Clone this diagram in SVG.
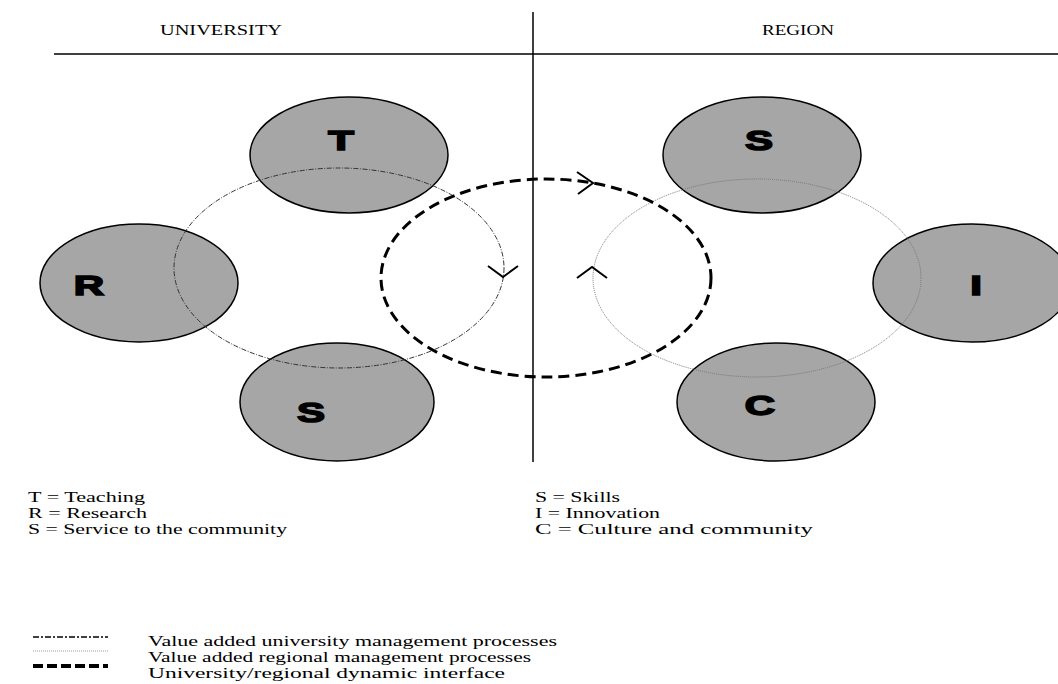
<svg xmlns="http://www.w3.org/2000/svg" width="1058" height="684" viewBox="0 0 1058 684">
<style>
  .bg { fill: #ffffff; }
  .node { fill: #a6a6a6; stroke: #000; stroke-width: 1.5; }
  .letter { font-family: "Liberation Sans", Arial, sans-serif; font-weight: bold; font-size: 28px; fill: #000; stroke: #000; stroke-width: 1.6; text-anchor: middle; }
  .txt { font-family: "Liberation Serif", "Times New Roman", serif; font-size: 14.5px; fill: #000; }
  .hdr { font-family: "Liberation Serif", "Times New Roman", serif; font-size: 15px; fill: #000; }
  .rule { stroke: #000; stroke-width: 1.5; fill: none; }
  .uni { fill: none; stroke: #333; stroke-width: 1; stroke-dasharray: 5 1.5 1 1.5; }
  .reg { fill: none; stroke: #777; stroke-width: 1; stroke-dasharray: 1 1; }
  .dyn { fill: none; stroke: #000; stroke-width: 3; stroke-dasharray: 11 6; }
  .chev { fill: none; stroke: #000; stroke-width: 2; }
</style>
<rect class="bg" x="0" y="0" width="1058" height="684"/>

<g id="frame">
  <line class="rule" x1="54" y1="54" x2="1058" y2="54"/>
  <line class="rule" x1="533" y1="12" x2="533" y2="462"/>
  <text class="hdr" x="160" y="35" textLength="122" lengthAdjust="spacingAndGlyphs">UNIVERSITY</text>
  <text class="hdr" x="762" y="35" textLength="72" lengthAdjust="spacingAndGlyphs">REGION</text>
</g>

<g id="node-T">
  <ellipse class="node" cx="349" cy="155" rx="99" ry="58"/>
  <text class="letter" transform="translate(341,150) scale(1.5,1)">T</text>
</g>
<g id="node-R">
  <ellipse class="node" cx="139" cy="283" rx="99" ry="59"/>
  <text class="letter" transform="translate(89,295) scale(1.5,1)">R</text>
</g>
<g id="node-S-uni">
  <ellipse class="node" cx="337" cy="402" rx="97" ry="59"/>
  <text class="letter" transform="translate(311,422) scale(1.5,1)">S</text>
</g>
<g id="node-S-reg">
  <ellipse class="node" cx="762" cy="155" rx="99" ry="58"/>
  <text class="letter" transform="translate(759,150) scale(1.5,1)">S</text>
</g>
<g id="node-I">
  <ellipse class="node" cx="972" cy="283" rx="99" ry="59"/>
  <text class="letter" transform="translate(976,295) scale(1.5,1)">I</text>
</g>
<g id="node-C">
  <ellipse class="node" cx="776" cy="402" rx="99" ry="59"/>
  <text class="letter" transform="translate(760,415) scale(1.5,1)">C</text>
</g>

<g id="connectors">
  <ellipse class="uni" cx="339" cy="268" rx="165" ry="100"/>
  <ellipse class="reg" cx="757" cy="278" rx="164" ry="99"/>
  <ellipse class="dyn" cx="546" cy="278" rx="165" ry="99"/>
  <polyline class="chev" points="577,172 593,183 578,194"/>
  <polyline class="chev" points="488,266 503,277 518,266"/>
  <polyline class="chev" points="577,278 592,267 607,278"/>
</g>

<g id="key">
  <text class="txt" x="28" y="502" textLength="117" lengthAdjust="spacingAndGlyphs">T = Teaching</text>
  <text class="txt" x="28" y="518" textLength="119" lengthAdjust="spacingAndGlyphs">R = Research</text>
  <text class="txt" x="28" y="534" textLength="259" lengthAdjust="spacingAndGlyphs">S = Service to the community</text>
  <text class="txt" x="535" y="502" textLength="85" lengthAdjust="spacingAndGlyphs">S = Skills</text>
  <text class="txt" x="535" y="518" textLength="125" lengthAdjust="spacingAndGlyphs">I = Innovation</text>
  <text class="txt" x="535" y="534" textLength="278" lengthAdjust="spacingAndGlyphs">C = Culture and community</text>
</g>

<g id="legend">
  <line x1="33" y1="637" x2="108" y2="637" stroke="#000" stroke-width="1.5" stroke-dasharray="6 2 2 2"/>
  <line x1="33" y1="651" x2="108" y2="651" stroke="#999" stroke-width="1" stroke-dasharray="1 1"/>
  <line x1="33" y1="666" x2="108" y2="666" stroke="#000" stroke-width="4" stroke-dasharray="10 4"/>
  <text class="txt" x="148" y="646" textLength="409" lengthAdjust="spacingAndGlyphs">Value added university management processes</text>
  <text class="txt" x="148" y="662" textLength="383" lengthAdjust="spacingAndGlyphs">Value added regional management processes</text>
  <text class="txt" x="148" y="678" textLength="357" lengthAdjust="spacingAndGlyphs">University/regional dynamic interface</text>
</g>
</svg>
